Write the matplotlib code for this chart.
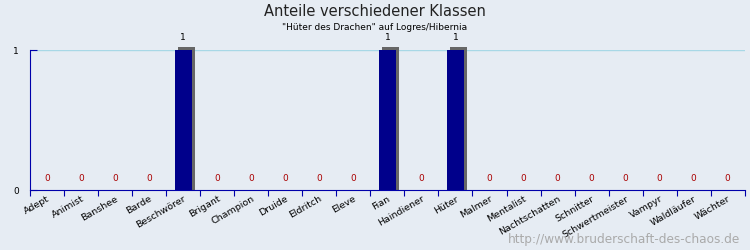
import matplotlib
matplotlib.use("Agg")
import matplotlib.pyplot as plt
import numpy as np

# Klassen und Anzahl
klassen = ["Adept", "Animist", "Banshee", "Barde", "Beschwörer", "Brigant",
           "Champion", "Druide", "Eldritch", "Eleve", "Fian", "Haindiener",
           "Hüter", "Malmer", "Mentalist", "Nachtschatten", "Schnitter",
           "Schwertmeister", "Vampyr", "Waldläufer", "Wächter"]
anzahl = [0, 0, 0, 0, 1, 0, 0, 0, 0, 0, 1, 0, 1, 0, 0, 0, 0, 0, 0, 0, 0]

bg = "#e6ecf3"
achse = "#0000aa"

fig = plt.figure(figsize=(7.5, 2.5), dpi=100, facecolor=bg)
ax = fig.add_axes([0.04, 0.24, 0.953, 0.56], facecolor=bg)

x = np.arange(len(klassen))
# schatten hinter den balken
ax.bar(x + 0.09, [a + 0.02 if a > 0 else 0 for a in anzahl], width=0.5,
       color="#666666", clip_on=False, zorder=2)
ax.bar(x, anzahl, width=0.5, color="#00008b", clip_on=False, zorder=3)

for i, a in enumerate(anzahl):
    if a > 0:
        ax.text(i, a + 0.06, str(a), ha="center", va="bottom", fontsize=6.5, color="black")
    else:
        ax.text(i, 0.05, str(a), ha="center", va="bottom", fontsize=6.5, color="#aa0000")

ax.set_xlim(-0.5, len(klassen) - 0.5)
ax.set_ylim(0, 1)
ax.axhline(1, color="#a8d8e6", lw=1, zorder=1)

for s in ["top", "right"]:
    ax.spines[s].set_visible(False)
ax.spines["left"].set_color(achse)
ax.spines["bottom"].set_color(achse)

ax.set_xticks(np.arange(len(klassen) + 1) - 0.5, minor=False)
ax.set_xticklabels([])
ax.tick_params(axis="x", colors=achse, length=4, direction="out")
ax.set_xticks(x, minor=True)
ax.set_xticklabels(klassen, minor=True, rotation=30, ha="right",
                   rotation_mode="anchor", fontsize=6.8, color="black")
ax.tick_params(axis="x", which="minor", length=0, pad=3)

ax.set_yticks([0, 1])
ax.set_yticklabels(["0", "1"], fontsize=6.5)
ax.tick_params(axis="y", colors=achse, length=5, direction="in", labelcolor="black", pad=8)

fig.text(0.5, 0.955, "Anteile verschiedener Klassen", ha="center", va="center",
         fontsize=10.5, color="#222222")
fig.text(0.5, 0.89, "\"Hüter des Drachen\" auf Logres/Hibernia", ha="center",
         va="center", fontsize=6.5, color="black")
fig.text(0.987, 0.04, "http://www.bruderschaft-des-chaos.de", ha="right",
         va="center", fontsize=8.7, color="#aaaaaa")

fig.savefig("out.png", dpi=100, facecolor=bg)
